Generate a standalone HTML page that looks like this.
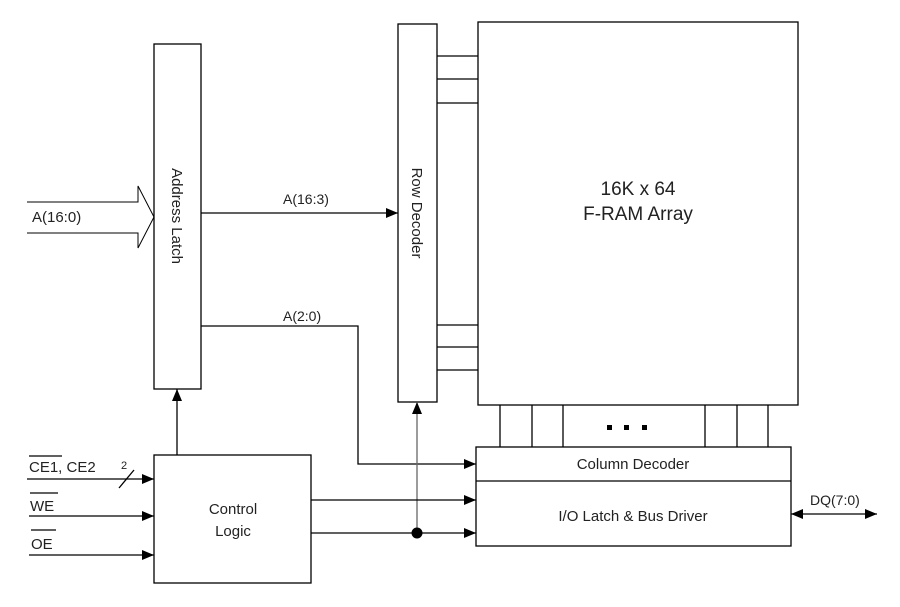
<!DOCTYPE html>
<html><head><style>
body{margin:0;background:#fff}
svg text{font-family:"Liberation Sans",Arial,sans-serif;fill:#222}
</style></head><body>
<svg width="900" height="602" viewBox="0 0 900 602" xmlns="http://www.w3.org/2000/svg">
<defs>
<marker id="a" markerWidth="12" markerHeight="10" refX="12" refY="5" orient="auto" markerUnits="userSpaceOnUse">
<path d="M0,0 L12,5 L0,10 Z" fill="#000"/></marker>
<marker id="s" markerWidth="12" markerHeight="10" refX="0" refY="5" orient="auto" markerUnits="userSpaceOnUse">
<path d="M12,0 L0,5 L12,10 Z" fill="#000"/></marker>
</defs>
<g stroke="#000" stroke-width="1.3" fill="none">
<rect x="154" y="44" width="47" height="345"/>
<rect x="398" y="24" width="39" height="378"/>
<rect x="478" y="22" width="320" height="383"/>
<rect x="476" y="447" width="315" height="99"/>
<line x1="476" y1="481" x2="791" y2="481"/>
<rect x="154" y="455" width="157" height="128"/>
<path d="M27,202 H138 V186 L154,217 L138,248 V233 H27" stroke-width="1"/>
<line x1="201" y1="213" x2="398" y2="213" marker-end="url(#a)"/>
<path d="M201,326 H358 V464 H476" marker-end="url(#a)"/>
<line x1="437" y1="56" x2="478" y2="56"/><line x1="437" y1="79" x2="478" y2="79"/><line x1="437" y1="103" x2="478" y2="103"/>
<line x1="437" y1="325" x2="478" y2="325"/><line x1="437" y1="347" x2="478" y2="347"/><line x1="437" y1="370" x2="478" y2="370"/>
<line x1="500" y1="405" x2="500" y2="447"/><line x1="532" y1="405" x2="532" y2="447"/><line x1="563" y1="405" x2="563" y2="447"/>
<line x1="705" y1="405" x2="705" y2="447"/><line x1="737" y1="405" x2="737" y2="447"/><line x1="768" y1="405" x2="768" y2="447"/>
<line x1="177" y1="455" x2="177" y2="389" marker-end="url(#a)"/>
<line x1="417" y1="533" x2="417" y2="402" stroke="#666" marker-end="url(#a)"/>
<line x1="311" y1="500" x2="476" y2="500" marker-end="url(#a)"/>
<line x1="311" y1="533" x2="476" y2="533" marker-end="url(#a)"/>
<line x1="27" y1="479" x2="154" y2="479" marker-end="url(#a)"/>
<line x1="119" y1="488" x2="134" y2="470"/>
<line x1="29" y1="516" x2="154" y2="516" marker-end="url(#a)"/>
<line x1="29" y1="555" x2="154" y2="555" marker-end="url(#a)"/>
<line x1="791" y1="514" x2="877" y2="514" marker-start="url(#s)" marker-end="url(#a)"/>
<line x1="29" y1="456" x2="62" y2="456"/><line x1="30" y1="493" x2="58" y2="493"/><line x1="31" y1="530" x2="56" y2="530"/>
</g>
<circle cx="417" cy="533" r="5.5" fill="#000"/>
<g fill="#000"><rect x="607" y="425" width="5" height="5"/><rect x="624" y="425" width="5" height="5"/><rect x="642" y="425" width="5" height="5"/></g>
<text x="32" y="222" font-size="15">A(16:0)</text>
<text x="283" y="204" font-size="14">A(16:3)</text>
<text x="283" y="321" font-size="14">A(2:0)</text>
<text transform="translate(172,216) rotate(90)" font-size="15" text-anchor="middle">Address Latch</text>
<text transform="translate(412,213) rotate(90)" font-size="15" text-anchor="middle">Row Decoder</text>
<text x="638" y="195" font-size="19" text-anchor="middle">16K x 64</text>
<text x="638" y="220" font-size="19" text-anchor="middle">F-RAM Array</text>
<text x="633" y="469" font-size="15" text-anchor="middle">Column Decoder</text>
<text x="633" y="521" font-size="15" text-anchor="middle">I/O Latch &amp; Bus Driver</text>
<text x="810" y="505" font-size="14">DQ(7:0)</text>
<text x="233" y="514" font-size="15" text-anchor="middle">Control</text>
<text x="233" y="536" font-size="15" text-anchor="middle">Logic</text>
<text x="29" y="472" font-size="15">CE1, CE2</text>
<text x="121" y="469" font-size="11">2</text>
<text x="30" y="511" font-size="15">WE</text>
<text x="31" y="549" font-size="15">OE</text>
</svg>
</body></html>
